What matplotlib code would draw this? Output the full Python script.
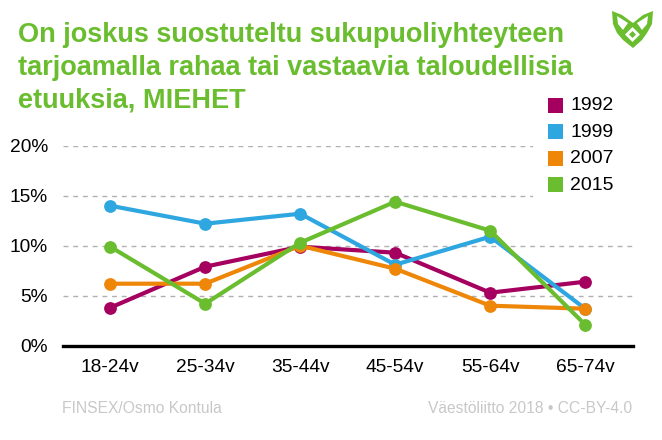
import numpy as np
import matplotlib
matplotlib.use('Agg')
import matplotlib.pyplot as plt
from matplotlib.patches import Rectangle, Polygon

plt.rcParams['font.family'] = ['Liberation Sans', 'DejaVu Sans']

W, H = 662, 440

categories = ['18-24v', '25-34v', '35-44v', '45-54v', '55-64v', '65-74v']
years = ['1992', '1999', '2007', '2015']
v1992 = [3.8, 7.9, 9.9, 9.3, 5.3, 6.4]
v1999 = [14.0, 12.2, 13.2, 8.1, 10.9, 3.7]
v2007 = [6.2, 6.2, 10.0, 7.7, 4.0, 3.7]
v2015 = [9.9, 4.2, 10.3, 14.4, 11.5, 2.1]
y_ticks = [0, 5, 10, 15, 20]

colors = ['#a5005f', '#2ea7e0', '#ee8608', '#6abd2e']
GREEN = '#6abd2e'

fig = plt.figure(figsize=(W / 100, H / 100), dpi=100)
ax = fig.add_axes([62.7 / W, 1 - 345.7 / H, 570 / W, 200 / H])
ax.set_xlim(-0.5, 5.5)
ax.set_ylim(0, 20)
ax.patch.set_alpha(0)

for t in y_ticks[1:]:
    ax.axhline(t, color='#b0b0b0', lw=1.0, ls=(0, (3.5, 3.5)), zorder=1)

for vals, c in zip([v1992, v1999, v2007, v2015], colors):
    ax.plot(range(6), vals, color=c, lw=3.0, marker='o', ms=9.2, mew=0,
            solid_joinstyle='round', zorder=3, clip_on=False)

for s in ['top', 'right', 'left']:
    ax.spines[s].set_visible(False)
ax.spines['bottom'].set_linewidth(2.4)
ax.spines['bottom'].set_color('black')
ax.spines['bottom'].set_zorder(2)

ax.set_xticks(range(6))
ax.set_xticklabels(categories)
ax.set_yticks(y_ticks)
ax.set_yticklabels(['%d%%' % t for t in y_ticks])
ax.tick_params(axis='both', length=0, labelsize=13.8, colors='black')
ax.tick_params(axis='x', pad=9.5)
ax.tick_params(axis='y', pad=10.5)

# legend as white box over the gridlines
fig.add_artist(Rectangle((533 / W, 1 - 198 / H), 105 / W, 103 / H, transform=fig.transFigure,
                         fc='white', ec='none', zorder=5))
for i, (y, c) in enumerate(zip(years, colors)):
    py = 105.5 + i * 26.5
    fig.add_artist(Rectangle((548 / W, 1 - (py + 7.5) / H), 15 / W, 15 / H,
                             transform=fig.transFigure, fc=c, ec='none', zorder=6))
    fig.text(570 / W, 1 - py / H, y, fontsize=14, va='center', ha='left', zorder=6)

title = ['On joskus suostuteltu sukupuoliyhteyteen',
         'tarjoamalla rahaa tai vastaavia taloudellisia',
         'etuuksia, MIEHET']
for i, line in enumerate(title):
    fig.text(18 / W, 1 - (35 + i * 33) / H, line, fontsize=19.55, fontweight='bold',
             color=GREEN, va='center', ha='left')

fig.text(62 / W, 1 - 408 / H, 'FINSEX/Osmo Kontula', fontsize=11.25, color='#c8c8c8',
         va='center', ha='left')
fig.text(632 / W, 1 - 408 / H, 'Väestöliitto 2018 • CC-BY-4.0', fontsize=11.25,
         color='#c8c8c8', va='center', ha='right')

# logo
def logo_poly(xs, ys, fc):
    pts = np.column_stack([np.array(xs) / W, 1 - np.array(ys) / H])
    fig.add_artist(Polygon(pts, closed=True, fc=fc, ec='none', transform=fig.transFigure))

logo_poly([612, 622, 633, 643, 653, 652, 647, 642, 633, 623, 617, 613],
          [11, 15, 23, 15, 11, 24, 33, 40, 48, 40, 33, 24], GREEN)
logo_poly([617, 628, 623, 618], [16, 23, 30, 24], 'white')
logo_poly([648, 637, 642, 647], [16, 23, 30, 24], 'white')
logo_poly([632.5, 640, 632.5, 625], [27, 34.5, 42, 34.5], 'white')
logo_poly([632.5, 636, 632.5, 629], [31, 34.5, 38, 34.5], GREEN)

fig.savefig('out.png', dpi=100)
